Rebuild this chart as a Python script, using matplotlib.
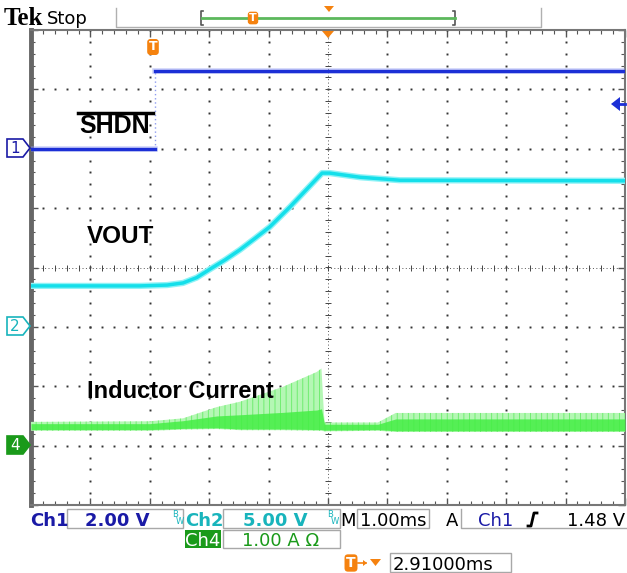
import numpy as np
import matplotlib.pyplot as plt
from matplotlib.patches import Rectangle, Polygon
from matplotlib.ticker import MultipleLocator

plt.rcParams['hatch.linewidth'] = 0.6

# time in ms relative to trigger; screen spans -2.09 .. 7.91 ms (1 ms/div)
t_left, t_right = -2.09, 7.91

# Ch1: SHDN (V)
shdn_t = [-2.09, 0.0, 0.0, 7.91]
shdn_v = [0.0, 0.0, 2.62, 2.62]

# Ch2: VOUT (V)
vout_t = [-2.09, -0.26, 0.20, 0.47, 0.70, 0.92, 1.18, 1.43, 1.68, 1.93, 2.27, 2.81,
          2.94, 3.45, 4.12, 7.91]
vout_v = [3.45, 3.45, 3.52, 3.7, 4.15, 4.85, 5.65, 6.5, 7.45, 8.42, 10.1, 12.95,
          12.95, 12.6, 12.35, 12.3]

# Ch4: inductor current envelope (A)
il_t = [-2.09, -0.09, 0.47, 1.04, 1.43, 2.15, 2.72, 2.80, 2.85, 3.75, 4.05, 7.91]
il_hi = [0.40, 0.41, 0.46, 0.65, 0.74, 0.99, 1.24, 1.30, 0.39, 0.39, 0.55, 0.55]
il_core = [0.37, 0.37, 0.42, 0.50, 0.52, 0.56, 0.60, 0.62, 0.36, 0.36, 0.45, 0.45]
il_lo = [0.25, 0.25, 0.27, 0.28, 0.26, 0.26, 0.25, 0.25, 0.24, 0.25, 0.23, 0.23]

# scope settings: (units/div, ground position in div from centre)
ch1_scale, ch1_pos = 2.0, 2
ch2_scale, ch2_pos = 5.0, -1
ch4_scale, ch4_pos = 1.0, -3

W, H = 627, 573
fig = plt.figure(figsize=(W / 100, H / 100), dpi=100)
fig.patch.set_facecolor('white')

rect = [31 / W, 1 - 505 / H, 594 / W, 475 / H]

# graticule, in divisions
ax = fig.add_axes(rect)
ax.set_xlim(0, 10)
ax.set_ylim(-4, 4)
ax.xaxis.set_major_locator(MultipleLocator(1))
ax.xaxis.set_minor_locator(MultipleLocator(0.2))
ax.yaxis.set_major_locator(MultipleLocator(1))
ax.yaxis.set_minor_locator(MultipleLocator(0.2))
ax.tick_params(which='both', direction='in', top=True, right=True,
               labelbottom=False, labelleft=False, color='#555')
ax.tick_params(which='major', length=5, width=1)
ax.tick_params(which='minor', length=3, width=0.8)
for s in ax.spines.values():
    s.set_color('#777')
    s.set_linewidth(1.5)
ax.spines['left'].set_linewidth(3.5)
ax.spines['left'].set_color('#666')

dots = np.arange(0, 10.01, 0.2)
vdots = np.arange(-4, 4.01, 0.2)
for k in range(1, 10):
    if k == 5:
        continue
    ax.plot(np.full_like(vdots, k), vdots, ls='none', marker='s', ms=1.4, mew=0, color='#333')
for k in range(-3, 4):
    if k == 0:
        continue
    ax.plot(dots, np.full_like(dots, k), ls='none', marker='s', ms=1.4, mew=0, color='#333')
# centre cross with minor ticks
ax.axhline(0, color='#555', lw=0.7, ls=(0, (1, 2.5)))
ax.axvline(5, color='#555', lw=0.7, ls=(0, (1, 2.5)))
ax.plot(dots, np.zeros_like(dots), ls='none', marker='|', ms=5, mew=0.7, color='#444')
ax.plot(np.full_like(vdots, 5), vdots, ls='none', marker='_', ms=5, mew=0.7, color='#444')


def channel_axes(scale, pos):
    a = fig.add_axes(rect, frameon=False)
    a.set_xlim(t_left, t_right)
    a.set_ylim((-4 - pos) * scale, (4 - pos) * scale)
    a.axis('off')
    return a


# Ch4 inductor current
a4 = channel_axes(ch4_scale, ch4_pos)
a4.fill_between(il_t, il_lo, il_hi, facecolor='#b4f7b4', edgecolor='#66ec66',
                hatch='|||', linewidth=0)
a4.fill_between(il_t, [v + 0.02 for v in il_lo], il_core, color='#45ee45', lw=0, alpha=0.85)

# Ch2 VOUT
a2 = channel_axes(ch2_scale, ch2_pos)
a2.plot(vout_t, vout_v, color='#8ff2f6', lw=4.5, solid_capstyle='butt', solid_joinstyle='round')
a2.plot(vout_t, vout_v, color='#14dfea', lw=2.5, solid_joinstyle='round')

# Ch1 SHDN
a1 = channel_axes(ch1_scale, ch1_pos)
a1.plot(shdn_t[1:3], shdn_v[1:3], color='#8e9cf0', lw=1, ls=(0, (1, 2)))
for seg in (slice(0, 2), slice(2, 4)):
    a1.plot(shdn_t[seg], shdn_v[seg], color='#8f9af2', lw=4, alpha=0.45)
    a1.plot(shdn_t[seg], shdn_v[seg], color='#1c2fd6', lw=2.4)

# overlay in pixel coordinates for annotations / status bar
ov = fig.add_axes([0, 0, 1, 1], frameon=False)
ov.set_xlim(0, W)
ov.set_ylim(H, 0)
ov.axis('off')

orange = '#f5820f'
blue = '#1a1aa6'
cyan = '#18b4bc'
green = '#1a9a1a'


def tbox(x, y, fs=9):
    ov.text(x, y, 'T', color='white', fontsize=fs, fontweight='bold', ha='center',
            va='center', family='DejaVu Sans',
            bbox=dict(boxstyle='round,pad=0.12,rounding_size=0.25', fc=orange, ec='none'))


def box(x0, y0, x1, y1):
    ov.add_patch(Rectangle((x0, y0), x1 - x0, y1 - y0, fill=False, ec='#a8a8a8', lw=1))


# trace labels
ov.text(79, 133, 'SHDN', fontsize=18, fontweight='bold', family='Liberation Sans')
ov.plot([78, 153], [113, 113], color='black', lw=2.5)
ov.text(87, 243, 'VOUT', fontsize=17.5, fontweight='bold', family='Liberation Sans')
ov.text(87, 398, 'Inductor Current', fontsize=17, fontweight='bold', family='Liberation Sans')


# channel ground markers
def marker(y, label, ec, fc, tc):
    ov.add_patch(Polygon([(7, y - 9), (23, y - 9), (30, y), (23, y + 9), (7, y + 9)],
                         closed=True, fc=fc, ec=ec, lw=1.2))
    ov.text(15, y + 0.5, label, color=tc, fontsize=11, ha='center', va='center',
            family='DejaVu Sans')


marker(148, '1', blue, 'white', blue)
marker(326, '2', cyan, 'white', cyan)
marker(445, '4', green, green, 'white')

# trigger level arrow (right side)
ov.add_patch(Polygon([(611, 104), (620, 97), (620, 111)], closed=True, fc='#1c2fd6', ec='none'))
ov.plot([619, 625], [104, 104], color='#1c2fd6', lw=2)

# trigger markers in graticule
tbox(153, 47, 9)
ov.add_patch(Polygon([(322, 31), (334, 31), (328, 38)], closed=True, fc=orange, ec='none'))

# top bar
ov.text(4, 25, 'Tek', fontsize=18, fontweight='bold', family='Liberation Serif')
ov.text(47, 24, 'Stop', fontsize=13, family='DejaVu Sans')
ov.plot([116, 116, 541, 541], [8, 27, 27, 8], color='#b0b0b0', lw=1)
ov.plot([203, 201, 201, 203], [11, 11, 25, 25], color='#555', lw=1.2)
ov.plot([453, 455, 455, 453], [11, 11, 25, 25], color='#555', lw=1.2)
ov.plot([202, 455], [18, 18], color='#5cb85c', lw=2)
tbox(253, 18, 8)
ov.add_patch(Polygon([(324, 6), (334, 6), (329, 12)], closed=True, fc=orange, ec='none'))

# status bar row 1
fs = 13
ov.text(30, 526, 'Ch1', color=blue, fontsize=fs, family='DejaVu Sans', fontweight='bold')
box(67, 509, 183, 528)
ov.text(117, 526, '2.00 V', color=blue, fontsize=fs, ha='center', family='DejaVu Sans', fontweight='bold')
ov.text(172, 517, 'B', color=cyan, fontsize=6, family='DejaVu Sans')
ov.text(176, 524, 'W', color=cyan, fontsize=6, family='DejaVu Sans')
ov.text(185, 526, 'Ch2', color=cyan, fontsize=fs, family='DejaVu Sans', fontweight='bold')
box(223, 509, 340, 528)
ov.text(275, 526, '5.00 V', color=cyan, fontsize=fs, ha='center', family='DejaVu Sans', fontweight='bold')
ov.text(327, 517, 'B', color=cyan, fontsize=6, family='DejaVu Sans')
ov.text(331, 524, 'W', color=cyan, fontsize=6, family='DejaVu Sans')
ov.text(340, 526, 'M', color='black', fontsize=fs, family='DejaVu Sans')
box(357, 509, 429, 528)
ov.text(393, 526, '1.00ms', color='black', fontsize=fs, ha='center', family='DejaVu Sans')
ov.text(446, 526, 'A', color='black', fontsize=fs, family='DejaVu Sans')
ov.plot([461, 461, 627], [509, 528, 528], color='#a8a8a8', lw=1)
ov.text(478, 526, 'Ch1', color=blue, fontsize=fs, family='DejaVu Sans')
ov.plot([528, 531, 534, 537], [526, 526, 513, 513], color='black', lw=2)
ov.text(625, 526, '1.48 V', color='black', fontsize=fs, ha='right', family='DejaVu Sans')

# status bar row 2
ov.add_patch(Rectangle((185, 530), 36, 18, fc=green, ec='none'))
ov.text(203, 546, 'Ch4', color='white', fontsize=fs, ha='center', family='DejaVu Sans')
box(223, 530, 340, 548)
ov.text(281, 546, '1.00 A \u03a9', color=green, fontsize=fs, ha='center', family='DejaVu Sans')

# status bar row 3
tbox(351, 563, 10)
ov.plot([358, 366], [563, 563], color=orange, lw=1.2)
ov.add_patch(Polygon([(363, 560), (367, 563), (363, 566)], closed=True, fc=orange, ec='none'))
ov.add_patch(Polygon([(370, 559), (381, 559), (375.5, 566)], closed=True, fc=orange, ec='none'))
box(390, 553, 511, 572)
ov.text(393, 570, '2.91000ms', color='black', fontsize=fs, family='DejaVu Sans')

fig.savefig('out.png', dpi=100, facecolor='white')
